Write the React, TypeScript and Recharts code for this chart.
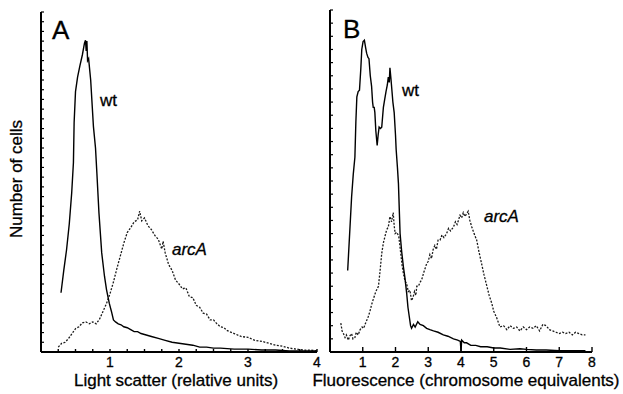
import React from 'react';
import { LineChart, Line, XAxis, YAxis } from 'recharts';

// panel A: light scatter
const wtAX = [0.29, 0.33, 0.37, 0.41, 0.445, 0.47, 0.48, 0.5, 0.53, 0.565, 0.6, 0.63, 0.645, 0.655, 0.665, 0.675, 0.69, 0.72, 0.76, 0.79, 0.81, 0.84, 0.88, 0.92, 0.95, 0.99, 1.02, 1.05, 1.08, 1.12, 1.16, 1.2, 1.25, 1.3, 1.35, 1.4, 1.45, 1.5, 1.6, 1.7, 1.8, 1.9, 2.0, 2.1, 2.2, 2.3, 2.4, 2.5, 2.6, 2.8, 3.0, 3.2, 3.4, 3.6, 3.8, 4.0];
const wtAY = [6.1, 8.4, 10.5, 13.2, 16.4, 19.5, 23.6, 26.8, 28.3, 29.5, 30.6, 31.8, 32.1, 31.0, 32.0, 30.0, 30.2, 28.0, 23.2, 21.0, 18.4, 14.3, 10.2, 7.8, 6.4, 5.0, 4.2, 3.3, 3.1, 2.9, 2.8, 2.6, 2.5, 2.3, 2.1, 2.1, 1.9, 1.8, 1.6, 1.4, 1.2, 1.0, 0.9, 0.8, 0.7, 0.5, 0.5, 0.4, 0.4, 0.3, 0.3, 0.2, 0.2, 0.1, 0.1, 0.1];
const arcAX = [0.25, 0.3, 0.35, 0.4, 0.45, 0.5, 0.55, 0.6, 0.65, 0.7, 0.75, 0.8, 0.85, 0.9, 0.95, 1.0, 1.05, 1.1, 1.15, 1.2, 1.25, 1.3, 1.35, 1.4, 1.43, 1.46, 1.5, 1.55, 1.6, 1.65, 1.7, 1.75, 1.77, 1.8, 1.85, 1.9, 1.95, 2.0, 2.05, 2.1, 2.15, 2.2, 2.25, 2.3, 2.35, 2.4, 2.45, 2.5, 2.55, 2.6, 2.65, 2.7, 2.8, 2.9, 3.0, 3.1, 3.2, 3.3, 3.4, 3.5, 3.6, 3.7, 3.8, 3.9, 4.0];
const arcAY = [0.5, 0.9, 1.0, 1.4, 1.9, 2.4, 2.6, 3.0, 3.1, 2.9, 3.1, 2.9, 3.4, 4.2, 5.0, 6.0, 7.2, 8.6, 9.9, 11.2, 12.3, 12.8, 13.4, 13.6, 14.5, 13.5, 13.8, 13.0, 12.6, 12.0, 11.6, 10.6, 11.4, 10.2, 9.0, 8.4, 7.4, 7.0, 6.5, 6.6, 5.7, 5.6, 4.8, 4.6, 4.0, 3.9, 3.3, 3.3, 2.9, 2.6, 2.5, 2.2, 1.9, 1.6, 1.5, 1.2, 1.1, 0.9, 0.7, 0.6, 0.4, 0.3, 0.2, 0.2, 0.1];

// panel B: fluorescence
const wtBX = [0.54, 0.6, 0.66, 0.71, 0.76, 0.79, 0.82, 0.86, 0.9, 0.94, 0.97, 1.01, 1.05, 1.09, 1.12, 1.16, 1.19, 1.23, 1.27, 1.3, 1.32, 1.35, 1.37, 1.4, 1.44, 1.47, 1.5, 1.54, 1.58, 1.61, 1.63, 1.67, 1.71, 1.75, 1.78, 1.81, 1.83, 1.86, 1.88, 1.92, 1.96, 2.0, 2.02, 2.06, 2.09, 2.12, 2.14, 2.19, 2.24, 2.29, 2.34, 2.38, 2.42, 2.46, 2.49, 2.55, 2.6, 2.68, 2.75, 2.85, 2.95, 3.05, 3.16, 3.3, 3.46, 3.6, 3.77, 3.9, 3.98, 4.0, 4.02, 4.1, 4.17, 4.3, 4.45, 4.6, 4.8, 5.0, 5.2, 5.5, 5.8, 6.0, 6.3, 6.6, 7.0, 7.4, 7.8];
const wtBY = [6.2, 9.0, 11.8, 13.5, 14.8, 17.5, 19.4, 19.8, 19.9, 21.5, 23.0, 23.6, 23.7, 23.1, 22.7, 22.4, 22.3, 21.0, 20.2, 19.0, 18.6, 18.6, 18.2, 16.8, 15.7, 16.5, 17.1, 17.0, 17.1, 18.0, 18.6, 19.2, 19.8, 20.3, 20.9, 20.5, 21.6, 20.8, 20.2, 19.0, 18.2, 16.5, 15.4, 14.0, 12.8, 10.5, 9.0, 7.6, 6.5, 5.6, 4.5, 3.4, 2.7, 2.0, 1.8, 2.1, 1.9, 2.3, 2.1, 2.0, 1.8, 1.7, 1.6, 1.5, 1.3, 1.2, 1.0, 0.9, 0.8, 0.05, 0.9, 0.7, 0.7, 0.5, 0.5, 0.4, 0.4, 0.3, 0.3, 0.2, 0.25, 0.2, 0.15, 0.15, 0.1, 0.1, 0.1];
const arcBX = [0.33, 0.37, 0.41, 0.46, 0.5, 0.56, 0.6, 0.66, 0.7, 0.76, 0.8, 0.86, 0.92, 0.98, 1.03, 1.07, 1.12, 1.17, 1.22, 1.27, 1.32, 1.4, 1.48, 1.53, 1.58, 1.63, 1.68, 1.73, 1.78, 1.83, 1.88, 1.93, 1.96, 1.99, 2.04, 2.1, 2.16, 2.2, 2.24, 2.29, 2.34, 2.39, 2.44, 2.49, 2.54, 2.58, 2.62, 2.65, 2.7, 2.75, 2.8, 2.87, 2.95, 3.0, 3.05, 3.1, 3.15, 3.2, 3.25, 3.3, 3.36, 3.42, 3.48, 3.56, 3.62, 3.68, 3.77, 3.83, 3.88, 3.92, 3.97, 4.02, 4.07, 4.12, 4.17, 4.22, 4.27, 4.33, 4.4, 4.48, 4.55, 4.63, 4.7, 4.79, 4.86, 4.94, 5.0, 5.09, 5.19, 5.3, 5.4, 5.5, 5.6, 5.7, 5.8, 5.9, 6.0, 6.1, 6.2, 6.3, 6.4, 6.5, 6.6, 6.7, 6.8, 6.9, 7.0, 7.1, 7.2, 7.3, 7.4, 7.5, 7.6, 7.7, 7.8];
const arcBY = [2.2, 1.6, 1.4, 1.1, 1.3, 0.9, 1.2, 1.4, 1.0, 1.1, 1.5, 1.3, 1.7, 1.9, 1.8, 2.1, 2.4, 2.7, 3.1, 3.6, 4.0, 4.6, 5.0, 6.2, 7.5, 8.3, 8.8, 9.3, 9.5, 10.3, 9.9, 10.6, 9.6, 9.0, 9.1, 8.8, 7.5, 6.6, 6.0, 5.4, 5.2, 4.6, 4.7, 3.9, 4.2, 4.6, 4.3, 5.0, 5.0, 5.3, 5.5, 6.1, 6.7, 6.9, 7.4, 7.1, 7.8, 8.1, 7.8, 8.5, 8.5, 8.9, 8.7, 9.0, 9.4, 9.2, 9.5, 9.9, 9.7, 10.0, 10.4, 10.2, 10.6, 10.3, 10.5, 10.7, 10.0, 9.5, 9.0, 8.5, 7.6, 6.7, 5.9, 5.0, 4.3, 3.7, 3.1, 2.6, 1.9, 2.0, 1.7, 2.0, 1.8, 1.9, 1.6, 1.9, 1.7, 1.9, 1.8, 2.0, 1.6, 2.1, 2.0, 1.7, 1.6, 1.5, 1.4, 1.5, 1.4, 1.5, 1.3, 1.5, 1.4, 1.3, 1.3];

const xTicksA = [0.25, 0.5, 0.75, 1, 1.25, 1.5, 1.75, 2, 2.25, 2.5, 2.75, 3, 3.25, 3.5, 3.75, 4];
const xTicksB = [1, 2, 3, 4, 5, 6, 7, 8];
const yTicksA = Array.from({ length: 36 }, (_, i) => i);
const yTicksB = Array.from({ length: 27 }, (_, i) => i);

const zip = (xs: number[], ys: number[]) => xs.map((x, i) => ({ x, y: ys[i] }));

const FONT = '"Liberation Sans", Arial, sans-serif';
const AXIS_Y = 352;

const xTick = (len: number) => (p: any) => {
  const v = p.payload.value;
  return (
    <g>
      <line x1={p.x} x2={p.x} y1={AXIS_Y} y2={AXIS_Y - len} stroke="#000" strokeWidth={1.4} />
      {Number.isInteger(v) && (
        <text x={p.x} y={AXIS_Y + 15} textAnchor="middle" fontSize={14} fontFamily={FONT} fill="#000" stroke="#000" strokeWidth={0.3}>{v}</text>
      )}
    </g>
  );
};

const yTick = (p: any) => (
  <line x1={p.x} x2={p.x + 3} y1={p.y} y2={p.y} stroke="#000" strokeWidth={1.2} />
);

const Panel = (props: { margin: any; xMax: number; yMax: number; xTicks: number[]; yTicks: number[]; tickLen: number; wt: any[]; arc: any[] }) => (
  <div style={{ position: 'absolute', left: 0, top: 0 }}>
    <LineChart width={623} height={394} margin={props.margin}>
      <XAxis type="number" dataKey="x" domain={[0, props.xMax]} ticks={props.xTicks} interval={0}
        height={1} tickSize={0} tickMargin={0} tickLine={false} tick={xTick(props.tickLen)}
        axisLine={{ stroke: '#000', strokeWidth: 2 }} allowDataOverflow />
      <YAxis type="number" dataKey="y" domain={[0, props.yMax]} ticks={props.yTicks} interval={0}
        width={1} tickSize={0} tickMargin={0} tickLine={false} tick={yTick}
        axisLine={{ stroke: '#000', strokeWidth: 2 }} allowDataOverflow />
      <Line data={props.arc} dataKey="y" type="linear" stroke="#1a1a1a" strokeWidth={1.3} strokeDasharray="2 1.5" dot={false} isAnimationActive={false} />
      <Line data={props.wt} dataKey="y" type="linear" stroke="#000" strokeWidth={1.4} dot={false} isAnimationActive={false} />
    </LineChart>
  </div>
);

export default function App() {
  return (
    <div style={{ position: 'absolute', left: 0, top: 0, width: 623, height: 394, background: '#fff', overflow: 'hidden' }}>
      <Panel margin={{ top: 12, left: 40, right: 306, bottom: 41 }} xMax={4} yMax={35} xTicks={xTicksA} yTicks={yTicksA} tickLen={3}
        wt={zip(wtAX, wtAY)} arc={zip(arcAX, arcAY)} />
      <Panel margin={{ top: 10, left: 329, right: 31, bottom: 41 }} xMax={8} yMax={26} xTicks={xTicksB} yTicks={yTicksB} tickLen={5}
        wt={zip(wtBX, wtBY)} arc={zip(arcBX, arcBY)} />
      <svg width={623} height={394} style={{ position: 'absolute', left: 0, top: 0, pointerEvents: 'none' }} fontFamily={FONT} stroke="#000" strokeWidth={0.3}>
        <text x={52} y={39} fontSize={26}>A</text>
        <text x={343} y={38} fontSize={26}>B</text>
        <text x={100} y={106} fontSize={17}>wt</text>
        <text x={172} y={255} fontSize={17} fontStyle="italic">arcA</text>
        <text x={402} y={96} fontSize={17}>wt</text>
        <text x={484} y={222} fontSize={17} fontStyle="italic">arcA</text>
        <text transform="translate(22,179) rotate(-90)" textAnchor="middle" fontSize={17}>Number of cells</text>
        <text x={176} y={386} textAnchor="middle" fontSize={17}>Light scatter (relative units)</text>
        <text x={466} y={386} textAnchor="middle" fontSize={17}>Fluorescence (chromosome equivalents)</text>
      </svg>
    </div>
  );
}
